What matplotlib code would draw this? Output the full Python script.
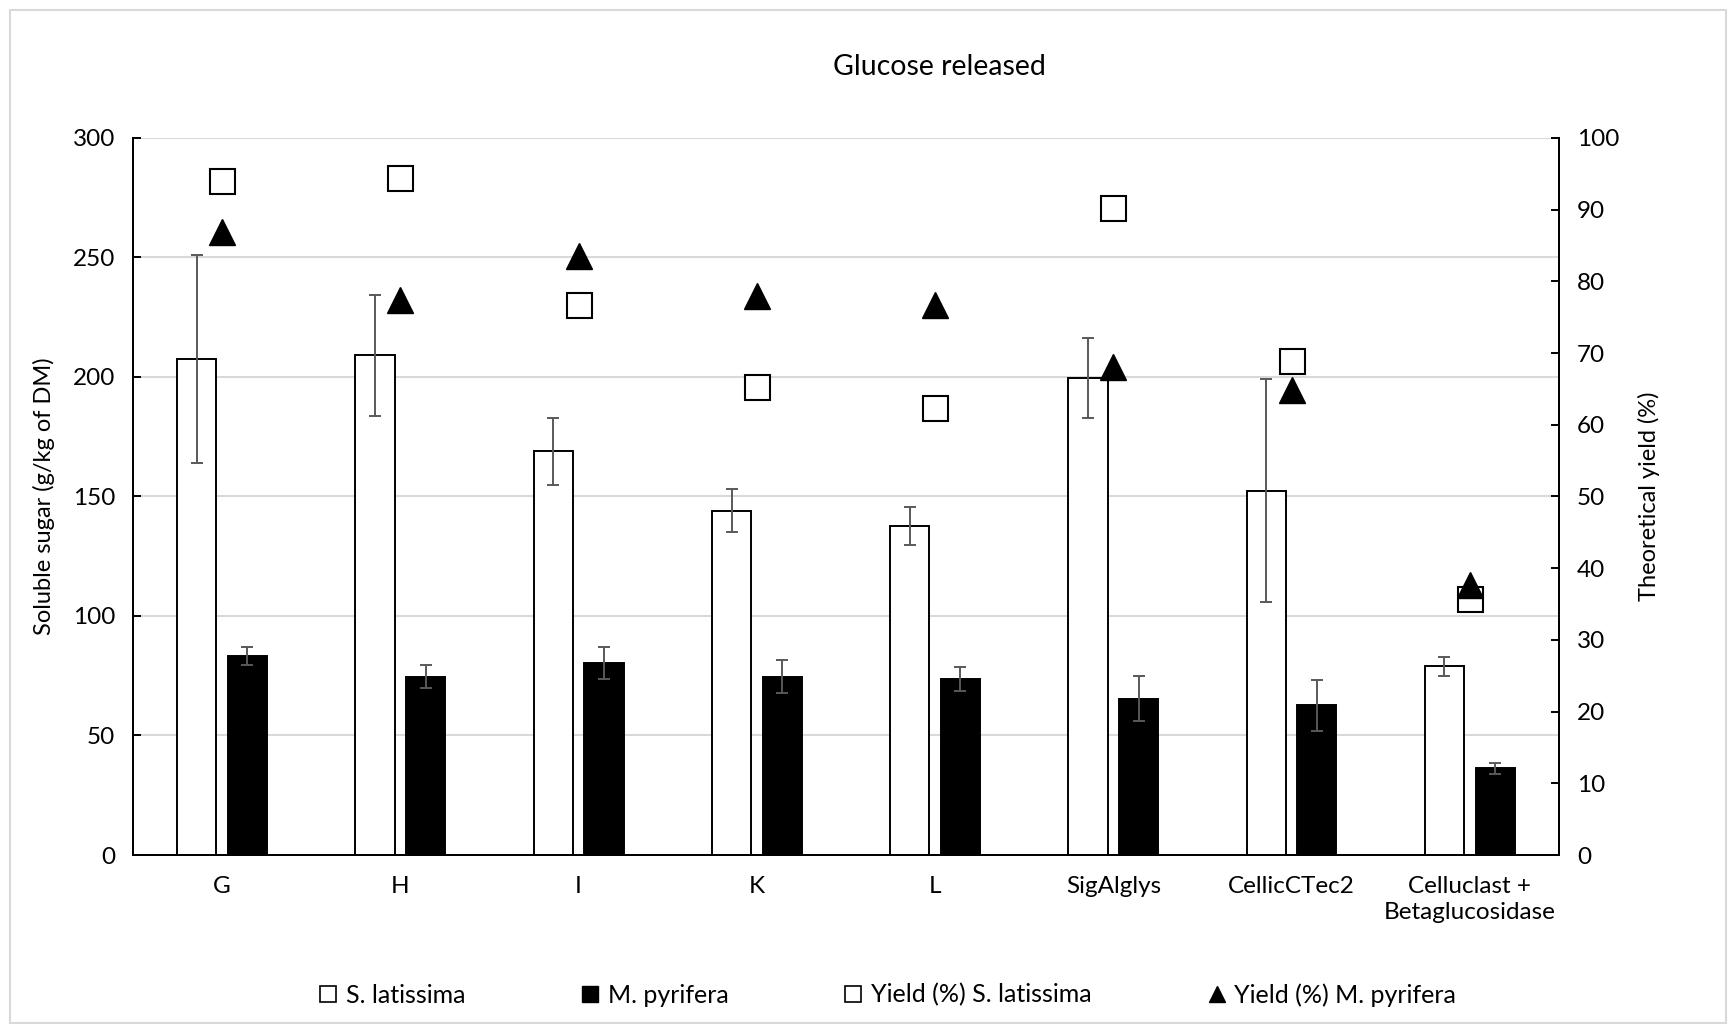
import matplotlib
matplotlib.use("Agg")
import matplotlib.pyplot as plt
from matplotlib.lines import Line2D
from matplotlib.patches import Rectangle
import numpy as np

plt.rcParams['font.family'] = ['Lato', 'DejaVu Sans']

categories = ["G", "H", "I", "K", "L", "SigAlglys", "CellicCTec2", "Celluclast +\nBetaglucosidase"]
s_latissima = [207.5, 209, 169, 144, 137.5, 199.5, 152.5, 79]
s_latissima_err = [43.5, 25.5, 14, 9, 8, 16.7, 46.5, 4]
m_pyrifera = [83.4, 74.6, 80.2, 74.6, 73.7, 65.4, 62.6, 36.2]
m_pyrifera_err = [3.7, 4.7, 6.7, 7, 5, 9.3, 10.7, 2.3]
yield_s_latissima = [94.0, 94.4, 76.7, 65.2, 62.3, 90.3, 68.9, 35.7]
yield_m_pyrifera = [86.9, 77.4, 83.5, 77.9, 76.7, 68.0, 64.8, 37.7]

fig = plt.figure(figsize=(17.36, 10.31), dpi=100)
fig.patches.append(Rectangle((0.006, 0.008), 0.988, 0.982, transform=fig.transFigure,
                             fill=False, edgecolor="#d9d9d9", linewidth=1.5))
ax = fig.add_axes([0.0766, 0.1707, 0.8214, 0.6955])
ax2 = ax.twinx()

x = np.arange(len(categories))
off = 0.142
w = 0.22
fs = 17.5
errc = "#595959"

ax.set_axisbelow(True)
ax.yaxis.grid(True, color="#d9d9d9", linewidth=1.5)
ax.bar(x - off, s_latissima, w, color="white", edgecolor="black", linewidth=1.4, zorder=2)
ax.bar(x + off, m_pyrifera, w, color="black", edgecolor="black", linewidth=1.4, zorder=2)
ax.errorbar(x - off, s_latissima, yerr=s_latissima_err, fmt="none", ecolor=errc,
            elinewidth=1.4, capsize=4.5, capthick=1.4, zorder=3)
ax.errorbar(x + off, m_pyrifera, yerr=m_pyrifera_err, fmt="none", ecolor=errc,
            elinewidth=1.4, capsize=4.5, capthick=1.4, zorder=3)

ax2.plot(x, yield_s_latissima, linestyle="none", marker="s", markersize=18,
         markerfacecolor="white", markeredgecolor="black", markeredgewidth=1.5, zorder=4)
ax2.plot(x, yield_m_pyrifera, linestyle="none", marker="^", markersize=19,
         markerfacecolor="black", markeredgecolor="black", zorder=5)

ax.set_xlim(-0.5, len(categories) - 0.5)
ax.set_ylim(0, 300)
ax.set_yticks(np.arange(0, 301, 50))
ax2.set_ylim(0, 100)
ax2.set_yticks(np.arange(0, 101, 10))
ax.set_xticks(x)
ax.set_xticklabels(categories, fontsize=fs, linespacing=1.3)
ax.tick_params(axis="x", length=0, pad=15)
ax.tick_params(axis="y", direction="in", length=6, width=1.4, labelsize=fs, pad=13)
ax2.tick_params(axis="y", direction="in", length=6, width=1.4, labelsize=fs, pad=13)

for a in (ax, ax2):
    a.spines["top"].set_visible(False)
    for s in ("left", "right", "bottom"):
        a.spines[s].set_linewidth(1.4)
        a.spines[s].set_color("black")
ax2.patch.set_visible(False)

fig.text(0.0253, 0.5185, "Soluble sugar (g/kg of DM)", rotation=90, ha="center", va="center", fontsize=17)
fig.text(0.950, 0.5185, "Theoretical yield (%)", rotation=90, ha="center", va="center", fontsize=17)
fig.text(0.541, 0.935, "Glucose released", ha="center", va="center", fontsize=20.5)

handles = [
    Line2D([], [], linestyle="none", marker="s", markersize=11, markerfacecolor="white", markeredgecolor="black", markeredgewidth=1.2),
    Line2D([], [], linestyle="none", marker="s", markersize=11, markerfacecolor="black", markeredgecolor="black"),
    Line2D([], [], linestyle="none", marker="s", markersize=11, markerfacecolor="white", markeredgecolor="black", markeredgewidth=1.2),
    Line2D([], [], linestyle="none", marker="^", markersize=12, markerfacecolor="black", markeredgecolor="black"),
]
labels = ["S. latissima", "M. pyrifera", "Yield (%) S. latissima", "Yield (%) M. pyrifera"]
fig.legend(handles, labels, loc="center", bbox_to_anchor=(0.511, 0.035), ncol=4, frameon=False,
           fontsize=18, handlelength=0.8, handletextpad=0.3, columnspacing=4.6)

fig.savefig("out.png", dpi=100)
